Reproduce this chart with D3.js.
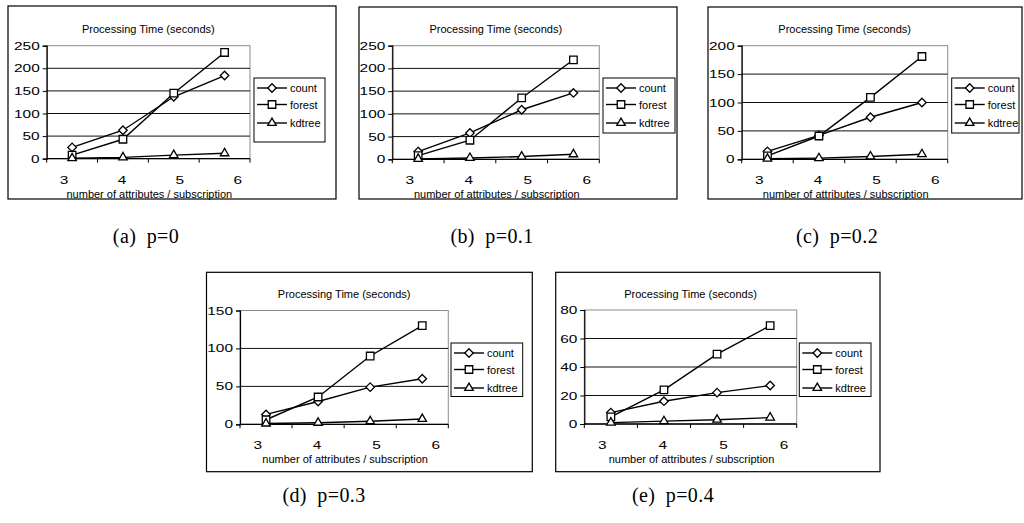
<!DOCTYPE html>
<html>
<head>
<meta charset="utf-8">
<script src="https://cdn.jsdelivr.net/npm/d3@7"></script>
<style>
  html, body { margin: 0; padding: 0; background: #fff; }
  svg { display: block; }
  .sans { font-family: "Liberation Sans", Arial, sans-serif; }
  .cap { font-family: "Liberation Serif", "DejaVu Serif", serif; }
</style>
</head>
<body>
<svg id="chart" width="1024" height="523"></svg>
<script>
// ---------------- data ----------------
const categories = ["3", "4", "5", "6"];
const tickLabels = ["3", "4", "5", "6"];
const seriesNames = ["count", "forest", "kdtree"];
const chartTitle = "Processing Time (seconds)";
const xAxisTitle = "number of attributes / subscription";
const captions = ["(a) p=0", "(b) p=0.1", "(c) p=0.2", "(d) p=0.3", "(e) p=0.4"];

const countP0 = [25, 63, 137, 184];
const forestP0 = [8, 43, 145, 235];
const kdtreeP0 = [1, 3, 8, 12];

const countP1 = [17, 58, 109, 146];
const forestP1 = [8, 42, 135, 219];
const kdtreeP1 = [1, 3, 6, 11];

const countP2 = [14, 42, 74, 100];
const forestP2 = [6, 41, 109, 181];
const kdtreeP2 = [1, 2, 5, 9];

const countP3 = [13, 30, 49, 60];
const forestP3 = [6, 36, 90, 130];
const kdtreeP3 = [1, 2, 4, 7];

const countP4 = [8, 16, 22, 27];
const forestP4 = [5, 24, 49, 69];
const kdtreeP4 = [1, 2, 3, 4.5];

const yMax = [250, 250, 200, 150, 80];
const yStep = [50, 50, 50, 50, 20];

// ---------------- layout (per panel) ----------------
const layouts = [
  { frame: [8, 6, 336, 199],        plot: [46.7, 45.7, 250, 158.7],  legend: [254, 78, 325, 142], cap: [146, 243] },
  { frame: [359, 7, 677, 199],      plot: [392.3, 45.7, 599.3, 159.3], legend: [603, 78, 675, 133], cap: [492, 243] },
  { frame: [708, 7, 1022, 199],     plot: [741.7, 45.7, 947.7, 159.3], legend: [951.7, 78, 1019, 133], cap: [837, 243] },
  { frame: [206.5, 272.3, 532.3, 471.7], plot: [240, 310.5, 448.3, 424.3], legend: [451, 343, 522.7, 396.5], cap: [324, 502] },
  { frame: [555.7, 272.3, 880, 471.7],   plot: [584.3, 310, 796.7, 424],   legend: [799.3, 343, 871, 396.5], cap: [673, 502] }
];

const panelSeries = [
  [countP0, forestP0, kdtreeP0],
  [countP1, forestP1, kdtreeP1],
  [countP2, forestP2, kdtreeP2],
  [countP3, forestP3, kdtreeP3],
  [countP4, forestP4, kdtreeP4]
];

const svg = d3.select("#chart");

const symDiamond = d3.symbolDiamond2 || d3.symbolDiamond;
const symSquare = d3.symbolSquare2 || d3.symbolSquare;
const symTriangle = d3.symbolTriangle2 || d3.symbolTriangle;
const symbols = [
  d3.symbol().type(symDiamond).size(46)(),
  d3.symbol().type(symSquare).size(72)(),
  d3.symbol().type(symTriangle).size(52)()
];
const labelStretch = 1.4;

layouts.forEach((L, pi) => {
  const g = svg.append("g");
  const [fx0, fy0, fx1, fy1] = L.frame;
  const [px0, py0, px1, py1] = L.plot;

  // frame
  g.append("rect")
    .attr("x", fx0).attr("y", fy0)
    .attr("width", fx1 - fx0).attr("height", fy1 - fy0)
    .attr("fill", "#fff").attr("stroke", "#000").attr("stroke-width", 1.2);

  const x = d3.scalePoint().domain(categories).range([px0, px1]).padding(0.5);
  const xLab = d3.scalePoint().domain(tickLabels)
    .range([px0 + (px1 - px0) * 0.085, px0 + (px1 - px0) * 0.94]);
  const y = d3.scaleLinear().domain([0, yMax[pi]]).range([py1, py0]);
  const yTicks = d3.range(0, yMax[pi] + 0.001, yStep[pi]);

  // plot area border (gray)
  g.append("rect")
    .attr("x", px0).attr("y", py0)
    .attr("width", px1 - px0).attr("height", py1 - py0)
    .attr("fill", "none").attr("stroke", "#8c8c8c").attr("stroke-width", 1);

  // gridlines
  g.append("g").selectAll("line")
    .data(yTicks.filter(v => v > 0 && v < yMax[pi]))
    .join("line")
    .attr("x1", px0).attr("x2", px1)
    .attr("y1", d => y(d)).attr("y2", d => y(d))
    .attr("stroke", "#111").attr("stroke-width", 1);

  // y axis (ticks via d3 axis, labels drawn stretched like the original)
  const yAxis = d3.axisLeft(y).tickValues(yTicks).tickSize(4).tickFormat("");
  const ya = g.append("g").attr("transform", `translate(${px0},0)`).call(yAxis);
  ya.select(".domain").attr("stroke", "#000").attr("stroke-width", 1.2);
  ya.selectAll(".tick line").attr("stroke", "#000");

  g.append("g").selectAll("text").data(yTicks).join("text")
    .attr("class", "sans").attr("font-size", 11)
    .attr("transform", d => `translate(${px0 - 7},${y(d) + 4}) scale(${labelStretch},1)`)
    .attr("text-anchor", "end").text(d3.format("d"));

  // x axis (category boundaries as ticks)
  const bw = (px1 - px0) / categories.length;
  const bounds = d3.range(categories.length + 1);
  g.append("line")
    .attr("x1", px0).attr("x2", px1).attr("y1", py1).attr("y2", py1)
    .attr("stroke", "#000").attr("stroke-width", 1.3);
  g.append("g").selectAll("line").data(bounds).join("line")
    .attr("x1", d => px0 + d * bw).attr("x2", d => px0 + d * bw)
    .attr("y1", py1).attr("y2", py1 + 4)
    .attr("stroke", "#000").attr("stroke-width", 1);

  g.append("g").selectAll("text").data(tickLabels).join("text")
    .attr("class", "sans").attr("font-size", 11)
    .attr("transform", d => `translate(${xLab(d)},${py1 + 25}) scale(${labelStretch},1)`)
    .attr("text-anchor", "middle").text(d => d);

  // titles
  g.append("text").attr("class", "sans").attr("font-size", 11)
    .attr("x", (px0 + px1) / 2).attr("y", py0 - 12.5)
    .attr("text-anchor", "middle").text(chartTitle);
  g.append("text").attr("class", "sans").attr("font-size", 11)
    .attr("x", (px0 + px1) / 2 + 1).attr("y", py1 + 39)
    .attr("text-anchor", "middle").text(xAxisTitle);

  // series
  const line = d3.line().x((d, i) => x(categories[i])).y(d => y(d));
  panelSeries[pi].forEach((vals, si) => {
    g.append("path").datum(vals).attr("d", line)
      .attr("fill", "none").attr("stroke", "#000").attr("stroke-width", 1.4);
    g.append("g").selectAll("path").data(vals).join("path")
      .attr("d", symbols[si])
      .attr("transform", (d, i) => `translate(${x(categories[i])},${y(d)})`)
      .attr("fill", "#fff").attr("stroke", "#000").attr("stroke-width", 1.3);
  });

  // legend
  const [lx0, ly0, lx1, ly1] = L.legend;
  g.append("rect").attr("x", lx0).attr("y", ly0)
    .attr("width", lx1 - lx0).attr("height", ly1 - ly0)
    .attr("fill", "#fff").attr("stroke", "#000").attr("stroke-width", 1);
  const rowY = [10, 26.5, 45];
  seriesNames.forEach((name, si) => {
    const yy = ly0 + rowY[si];
    g.append("line").attr("x1", lx0 + 3).attr("x2", lx0 + 33)
      .attr("y1", yy).attr("y2", yy)
      .attr("stroke", "#000").attr("stroke-width", 1.4);
    g.append("path").attr("d", symbols[si])
      .attr("transform", `translate(${lx0 + 18},${yy})`)
      .attr("fill", "#fff").attr("stroke", "#000").attr("stroke-width", 1.3);
    g.append("text").attr("class", "sans").attr("font-size", 11)
      .attr("x", lx0 + 36).attr("y", yy + 4).text(name);
  });

  // caption
  svg.append("text").attr("class", "cap").attr("font-size", 20)
    .attr("word-spacing", 5).attr("letter-spacing", 0.4)
    .attr("x", L.cap[0]).attr("y", L.cap[1])
    .attr("text-anchor", "middle").text(captions[pi]);
});
</script>
</body>
</html>
